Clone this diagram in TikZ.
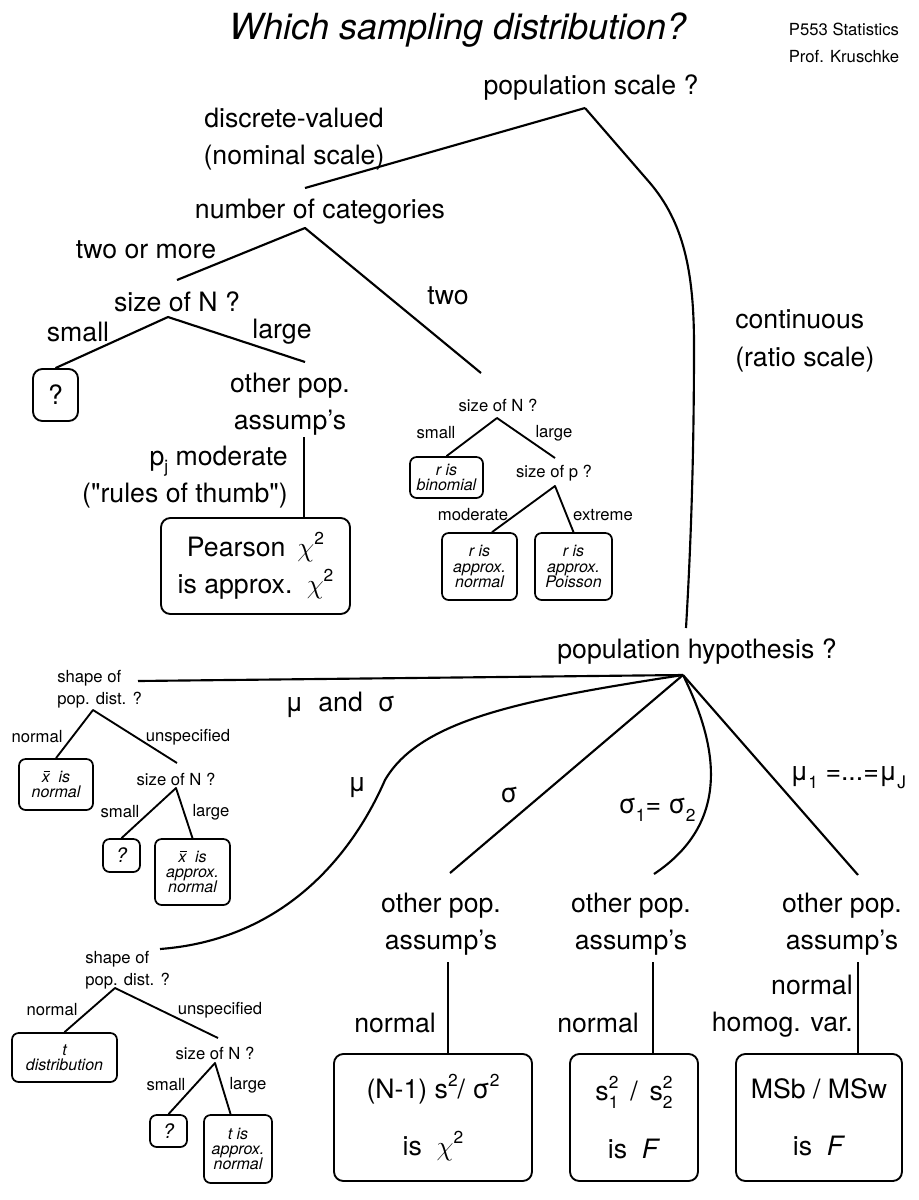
\documentclass[tikz,border=0pt]{standalone}
\usepackage{fontspec}
\setmainfont{TeX Gyre Heros}
\usetikzlibrary{calc}
\newcommand\hi[1]{\raisebox{0.85ex}{\fontsize{13}{13}\selectfont #1}}
\newcommand\lo[1]{\raisebox{-0.55ex}{\fontsize{13}{13}\selectfont #1}}
\newcommand\hilo[2]{\makebox[0pt][l]{\hi{#1}}\lo{#2}}
\newcommand\xbar{\leavevmode\rlap{\hspace{0.12em}\raisebox{0.62em}{\rule{0.42em}{0.07em}}}x}
\newcommand\chisq{$\chi$\hi{2}}

\begin{document}
\begin{tikzpicture}[x=0.75pt,y=-0.75pt,line join=round]
    \tikzset{
      big/.style={
        font=\fontsize{20}{28}\selectfont,
        align=center,
        inner sep=0pt,
      },
      sml/.style={
        font=\fontsize{12.5}{16.5}\selectfont,
        align=center,
        inner sep=0pt,
      },
      bigbox/.style={draw, line width=1.4pt, rounded corners=7pt, align=center,
        inner sep=0pt, font=\fontsize{20}{28}\selectfont},
      smlbox/.style={draw, line width=1.3pt, rounded corners=5pt, align=center,
        inner sep=0pt, font=\fontsize{12}{11.5}\selectfont\itshape},
      branch/.style={line width=1.6pt},
      twig/.style={line width=1.4pt},
    }
    \useasboundingbox (0,0) rectangle (919,1200);

    % heading
    \node (title) at (458,30) {\fontsize{27}{30}\selectfont\itshape Which sampling distribution?};
    \node[sml, font=\fontsize{12.5}{15}\selectfont] (course) at (844,29) {P553 Statistics};
    \node[sml, font=\fontsize{12.5}{15}\selectfont] (prof) at (844,57) {Prof. Kruschke};

    % population scale
    \node[big] (popScale) at (591,88) {population scale ?};
    \node[big] (discrete) at (294,139) {discrete-valued\\(nominal scale)};
    \node[big, align=left, anchor=west] (contin) at (735,341) {continuous\\(ratio scale)};
    \node[big] (numCat) at (320,212) {number of categories};
    \node[big] (twoMore) at (146,250) {two or more};
    \node[big] (two) at (448,296) {two};
    \node[big] (sizeNa) at (177,302) {size of N ?};
    \node[big] (smallA) at (78,332) {small};
    \node[big] (largeA) at (282,332) {large};
    \node[bigbox, minimum width=33.75pt, minimum height=39pt] (qA) at (55.5,395) {?};
    \node[big] (otherA) at (290,404) {other pop.\\assump's};
    \node[big, align=right, anchor=east] (pjMod) at (288,477)
          {p\lo{j} moderate\\(\textquotedbl rules of thumb\textquotedbl)};
    \node[bigbox, minimum width=141.75pt, minimum height=72pt,
          font=\fontsize{20}{27.75}\selectfont] (pearson) at (255.5,566)
          {Pearson \,\chisq\\is approx. \,\chisq};

    % two categories
    \node[sml] (sizeNb) at (498,405) {size of N ?};
    \node[sml] (smallB) at (436,433) {small};
    \node[sml] (largeB) at (554,433) {large};
    \node[smlbox, minimum width=54.75pt, minimum height=30.75pt] (binom) at (446.5,477.5) {r is\\binomial};
    \node[sml] (sizeP) at (554,473) {size of p ?};
    \node[sml] (moder) at (473,515) {moderate};
    \node[sml] (extr) at (603,515) {extreme};
    \node[smlbox, minimum width=56.25pt, minimum height=50.25pt] (apxNorm) at (479.5,566.5) {r is\\approx.\\normal};
    \node[smlbox, minimum width=57.75pt, minimum height=50.25pt] (apxPois) at (573.5,566.5) {r is\\approx.\\Poisson};

    % population hypothesis
    \node[big] (popHyp) at (697,652) {population hypothesis ?};
    \node[big] (muSig) at (340,705) {μ \ and \ σ};
    \node[big] (muLbl) at (357,788) {μ};
    \node[big] (sigLbl) at (509,795) {σ};
    \node[big] (sigEq) at (657,810) {σ\lo{1}= σ\lo{2}};
    \node[big] (muEq) at (848,778) {μ\lo{1} =...=μ\lo{J}};
    \node[big] (otherB) at (441,924) {other pop.\\assump's};
    \node[big] (otherC) at (631,924) {other pop.\\assump's};
    \node[big] (otherD) at (842,924) {other pop.\\assump's};
    \node[big] (normB) at (395,1023) {normal};
    \node[big] (normC) at (598,1023) {normal};
    \node[big, align=right, anchor=east] (homog) at (853,1006) {normal\\homog. var.};
    \node[bigbox, minimum width=148.5pt, minimum height=95.25pt,
          font=\fontsize{20}{43}\selectfont] (chiBox) at (433,1117.5)
          {(N-1) s\hi{2}/ σ\hi{2}\\is \ \chisq};
    \node[bigbox, minimum width=96pt, minimum height=95.25pt,
          font=\fontsize{20}{43}\selectfont] (fBox) at (634,1117.5)
          {s\hilo{2}{1} \,/ \,s\hilo{2}{2}\\is \ \textit{F}};
    \node[bigbox, minimum width=124.5pt, minimum height=95.25pt,
          font=\fontsize{20}{43}\selectfont] (msBox) at (819,1117.5)
          {MSb / MSw\\is \ \textit{F}};

    % mu and sigma
    \node[sml, align=left, anchor=west] (shapeA) at (57,689) {shape of\\pop. dist. ?};
    \node[sml] (normA) at (37,737) {normal};
    \node[sml] (unspA) at (188,737) {unspecified};
    \node[smlbox, minimum width=55.5pt, minimum height=38.25pt] (xNorm) at (56,784.5) {\xbar\ \ is\\normal};
    \node[sml] (sizeNc) at (176,779) {size of N ?};
    \node[sml] (smallC) at (120,812) {small};
    \node[sml] (largeC) at (211,812) {large};
    \node[smlbox, minimum width=27.75pt, minimum height=24.75pt,
          font=\fontsize{15}{15}\selectfont\itshape] (qB) at (121.5,855.5) {?};
    \node[smlbox, minimum width=56.25pt, minimum height=49.5pt] (xApx) at (192.5,872) {\xbar\ \ is\\approx.\\normal};

    % mu
    \node[sml, align=left, anchor=west] (shapeB) at (85,970) {shape of\\pop. dist. ?};
    \node[sml] (normD) at (52,1010) {normal};
    \node[sml] (unspB) at (220,1010) {unspecified};
    \node[smlbox, minimum width=78.75pt, minimum height=36.75pt] (tDist) at (64.5,1057.5) {t\\distribution};
    \node[sml] (sizeNd) at (215,1053) {size of N ?};
    \node[sml] (smallD) at (166,1085) {small};
    \node[sml] (largeD) at (248,1085) {large};
    \node[smlbox, minimum width=27.75pt, minimum height=24pt,
          font=\fontsize{15}{15}\selectfont\itshape] (qC) at (168.5,1131) {?};
    \node[smlbox, minimum width=51pt, minimum height=51pt] (tApx) at (238,1149) {t is\\approx.\\normal};

    % branch points
    \coordinate (scaleApex) at (585,108);
    \coordinate (catTop) at (305,188);
    \coordinate (hypTop) at (686,628);
    \coordinate (catApex) at (305,228);
    \coordinate (sizeNaTop) at (177,280);
    \coordinate (sizeNbTop) at (481,373);
    \coordinate (sizeNaApex) at (168,317);
    \coordinate (otherATop) at (305,362);
    \coordinate (otherABot) at (304,437);
    \coordinate (sizeNbApex) at (497,418);
    \coordinate (sizePTop) at (555,458);
    \coordinate (sizePApex) at (555,486);
    \coordinate (hypApex) at (683,675);
    \coordinate (shapeAEnd) at (138,681);
    \coordinate (shapeBEnd) at (160,949);
    \coordinate (otherBTop) at (450,873);
    \coordinate (otherCTop) at (654,874);
    \coordinate (otherDTop) at (858,875);
    \coordinate (otherBBot) at (448,962);
    \coordinate (otherCBot) at (653,962);
    \coordinate (otherDBot) at (858,962);
    \coordinate (shapeAApex) at (93,710);
    \coordinate (sizeNcTop) at (177,763);
    \coordinate (sizeNcApex) at (176,788);
    \coordinate (shapeBApex) at (115,988);
    \coordinate (sizeNdTop) at (218,1038);
    \coordinate (sizeNdApex) at (215,1063);

    % scale
    \draw[branch] (catTop) -- (scaleApex);
    \draw[branch] (scaleApex) -- (650,183) .. controls (683,222) and (694,270) .. (694,345)
                  .. controls (694,470) and (690,560) .. (hypTop);

    % categories
    \draw[branch] (sizeNaTop) -- (catApex) -- (sizeNbTop);
    \draw[branch] (qA.north) -- (sizeNaApex) -- (otherATop);
    \draw[branch] (otherABot) -- (otherABot |- pearson.north);
    \draw[twig] (binom.north) -- (sizeNbApex) -- (sizePTop);
    \draw[twig] (apxNorm.70) -- (sizePApex) -- (apxPois.north);

    % hypothesis
    \draw[branch] (shapeAEnd) -- (hypApex);
    \draw[branch] (hypApex) .. controls (520,700) and (420,720) .. (385,780)
                  .. controls (350,860) and (280,940) .. (shapeBEnd);
    \draw[branch] (hypApex) -- (otherBTop);
    \draw[branch] (hypApex) .. controls (715,740) and (735,820) .. (otherCTop);
    \draw[branch] (hypApex) -- (otherDTop);
    \draw[branch] (otherBBot) -- (otherBBot |- chiBox.north);
    \draw[branch] (otherCBot) -- (otherCBot |- fBox.north);
    \draw[branch] (otherDBot) -- (otherDBot |- msBox.north);

    % shape of pop. dist.
    \draw[twig] (xNorm.north) -- (shapeAApex) -- (sizeNcTop);
    \draw[twig] (qB.north) -- (sizeNcApex) -- (xApx.north);
    \draw[twig] (tDist.north) -- (shapeBApex) -- (sizeNdTop);
    \draw[twig] (qC.north) -- (sizeNdApex) -- (tApx.102);
\end{tikzpicture}
\end{document}
